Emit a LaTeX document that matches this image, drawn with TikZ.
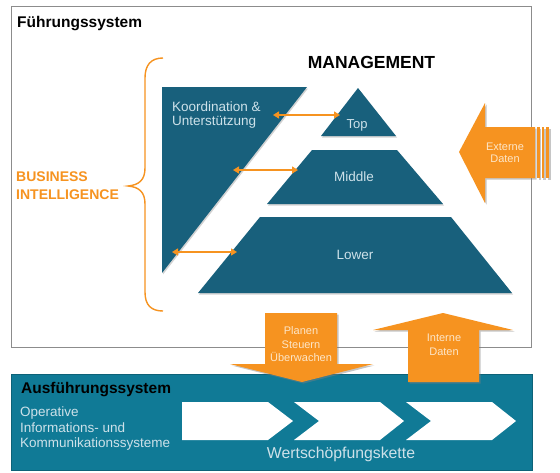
\documentclass[tikz,border=0pt]{standalone}
\usepackage{fontspec}
\setmainfont{Liberation Sans}
\usetikzlibrary{shadows,arrows.meta}
\definecolor{pyr}{RGB}{24,96,124}
\definecolor{execbox}{RGB}{16,122,150}
\definecolor{orng}{RGB}{246,147,32}
\definecolor{paletxt}{RGB}{205,225,233}
\definecolor{orgtxt}{RGB}{253,230,200}
\definecolor{framegray}{RGB}{140,140,140}
\tikzset{
  pyrshape/.style={fill=pyr, drop shadow={shadow xshift=1pt, shadow yshift=-1.5pt, opacity=0.35}},
  orarrow/.style={fill=orng, drop shadow={shadow xshift=1.5pt, shadow yshift=-1.5pt, opacity=0.45}},
  chevron/.style={fill=white},
  biarrow/.style={draw=orng, line width=1.4pt, arrows={Triangle[length=6pt,width=7pt]-Triangle[length=6pt,width=7pt]}},
  levtxt/.style={text=paletxt, inner sep=0pt},
  ortxt/.style={text=orgtxt, inner sep=0pt, align=center},
}
\begin{document}
\begin{tikzpicture}[x=1pt,y=-1pt]
\useasboundingbox (0,0) rectangle (560,472);

% Fuehrungssystem frame
\draw[framegray, line width=1pt, fill=white] (11,6) rectangle (531,347);
\node[anchor=base west, inner sep=0pt, font=\bfseries\fontsize{15.5}{18}\selectfont] (fs) at (17,27) {Führungssystem};
\node[anchor=base, inner sep=0pt, font=\bfseries\fontsize{17.5}{20}\selectfont] (mgmt) at (371.5,68) {MANAGEMENT};

% brace
\draw[orng, line width=1.4pt] (163,58) .. controls (151,58) and (145,65) .. (145,78) -- (145,168)
  .. controls (145,180) and (139,185) .. (128,186) .. controls (139,187) and (145,192) .. (145,204)
  -- (145,292) .. controls (145,305) and (151,311) .. (163,311);
\node[anchor=west, inner sep=0pt, align=left, text=orng, font=\bfseries\fontsize{14}{18}\selectfont] (bi) at (16,186) {BUSINESS\\INTELLIGENCE};

% Koordination triangle
\path[pyrshape] (162,87) -- (307,87) -- (162,273) -- cycle;
\node[anchor=west, levtxt, align=left, font=\fontsize{13.5}{14.5}\selectfont] (koord) at (172,115) {Koordination \&\\Unterstützung};

% pyramid
\path[pyrshape] (358,88) -- (396,136) -- (321,136) -- cycle;
\path[pyrshape] (312,150) -- (397,150) -- (443,204) -- (267,204) -- cycle;
\path[pyrshape] (260,217) -- (451,217) -- (512,293) -- (198,293) -- cycle;
\node[levtxt, font=\fontsize{13}{14}\selectfont] (top) at (357,125) {Top};
\node[levtxt, font=\fontsize{13.5}{15}\selectfont] (middle) at (354,177) {Middle};
\node[levtxt, font=\fontsize{13.5}{15}\selectfont] (lower) at (355,255) {Lower};

% double arrows
\coordinate (a1l) at (273,115);
\coordinate (a1r) at (340,115);
\coordinate (a2l) at (233,170);
\coordinate (a2r) at (298,170);
\coordinate (a3l) at (172,252);
\coordinate (a3r) at (237,252);
\draw[biarrow] (a1l) -- (a1r);
\draw[biarrow] (a2l) -- (a2r);
\draw[biarrow] (a3l) -- (a3r);

% Ausfuehrungssystem
\path[fill=execbox, draw=execbox!80!black, line width=0.6pt, drop shadow={shadow xshift=1pt, shadow yshift=-1pt, opacity=0.3}] (11,374) rectangle (532,470);
\node[anchor=base west, inner sep=0pt, font=\bfseries\fontsize{15.5}{18}\selectfont] (as) at (21,393) {Ausführungssystem};
\node[anchor=west, levtxt, align=left, font=\fontsize{13.5}{15.5}\selectfont] (oiks) at (20,429) {Operative\\Informations- und\\Kommunikationssysteme};
\path[chevron] (182,402) -- (268,402) -- (293,421) -- (268,440) -- (182,440) -- cycle;
\path[chevron] (294,402) -- (380,402) -- (404,421) -- (380,440) -- (294,440) -- (319,421) -- cycle;
\path[chevron] (406,402) -- (492,402) -- (516,421) -- (492,440) -- (406,440) -- (431,421) -- cycle;
\node[anchor=base, inner sep=0pt, text=paletxt, font=\fontsize{15.8}{18}\selectfont] (wsk) at (341,458) {Wertschöpfungskette};

% Externe Daten arrow
\path[orarrow] (459,152) -- (485,103) -- (485,127) -- (535,127) -- (535,178) -- (485,178) -- (485,203) -- cycle;
\path[orarrow] (537,127) rectangle (539.5,178);
\path[orarrow] (541.5,127) rectangle (544,178);
\path[orarrow] (546,127) rectangle (549,178);
\node[ortxt, font=\fontsize{11}{12}\selectfont] (ext) at (505,152.5) {Externe\\Daten};

% Planen arrow
\path[orarrow] (265,313) -- (337,313) -- (337,364) -- (373,364) -- (302,382) -- (230,364) -- (265,364) -- cycle;
\node[ortxt, font=\fontsize{11}{13.5}\selectfont] (psu) at (301,344.5) {Planen\\Steuern\\Überwachen};

% Interne Daten arrow
\path[orarrow] (443,313) -- (513,330) -- (479,330) -- (479,382) -- (408,382) -- (408,330) -- (373,330) -- cycle;
\node[ortxt, font=\fontsize{11}{14}\selectfont] (intd) at (444,345) {Interne\\Daten};
\end{tikzpicture}
\end{document}
